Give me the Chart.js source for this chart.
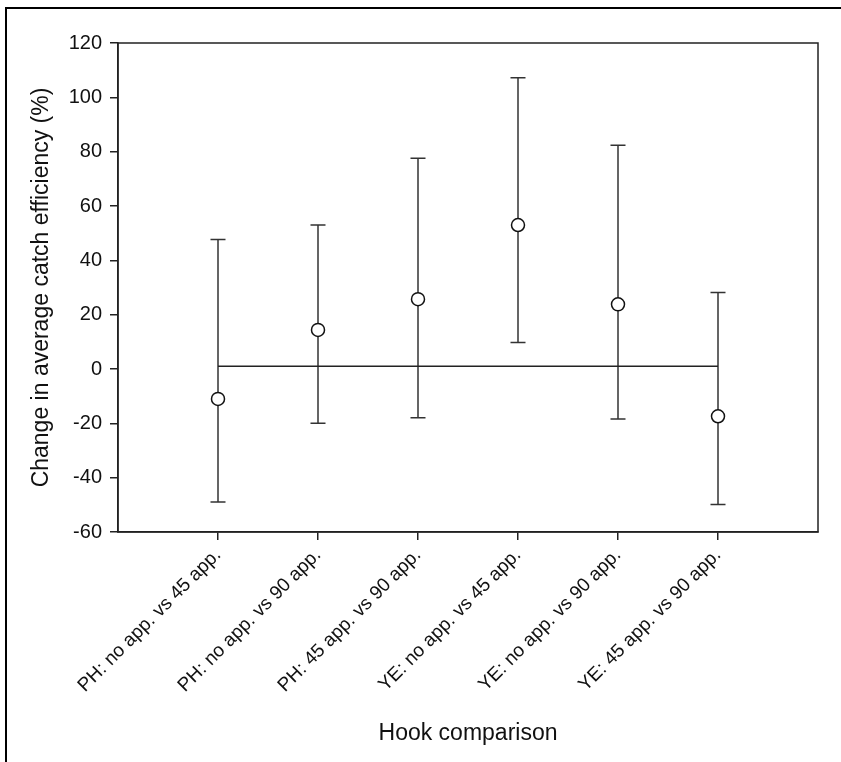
<!DOCTYPE html>
<html><head><meta charset="utf-8">
<script src="https://cdn.jsdelivr.net/npm/chart.js@4.4.0/dist/chart.umd.min.js"></script>
<style>
html,body{margin:0;padding:0;background:#fff;overflow:hidden;}
#wrap{position:absolute;left:0;top:0;width:841px;height:762px;}
#frame{position:absolute;left:5px;top:7px;width:840px;height:760px;border-top:2px solid #000;border-left:2px solid #000;}
canvas{position:absolute;left:0;top:0;}
</style></head><body>
<div id="wrap"><div id="frame"></div><canvas id="c" width="841" height="762"></canvas></div>
<script>
const categories = ["PH: no app. vs 45 app.", "PH: no app. vs 90 app.", "PH: 45 app. vs 90 app.",
                    "YE: no app. vs 45 app.", "YE: no app. vs 90 app.", "YE: 45 app. vs 90 app."];
const meanValues  = [-11.0, 14.4, 25.7, 53.0, 23.8, -17.4];
const upperValues = [47.7, 53.0, 77.6, 107.2, 82.4, 28.2];
const lowerValues = [-49.0, -20.0, -17.9, 9.8, -18.4, -49.9];
const referenceLevel = 1;
const yTicks = [-60, -40, -20, 0, 20, 40, 60, 80, 100, 120];

const FONT = "'Liberation Sans', Arial, sans-serif";
const INK = '#222';

const meanPoints = meanValues.map((v, i) => ({x: i + 1, y: v}));
const refLine = [{x: 1, y: referenceLevel}, {x: categories.length, y: referenceLevel}];

const errorBarPlugin = {
  id: 'errorBars',
  beforeDatasetsDraw(chart) {
    const {ctx, scales: {x, y}} = chart;
    ctx.save();
    ctx.strokeStyle = '#333';
    ctx.lineWidth = 1.5;
    const cap = 7.5;
    categories.forEach((c, i) => {
      const px = x.getPixelForValue(i + 1);
      const pu = y.getPixelForValue(upperValues[i]);
      const pl = y.getPixelForValue(lowerValues[i]);
      ctx.beginPath();
      ctx.moveTo(px, pu); ctx.lineTo(px, pl);
      ctx.moveTo(px - cap, pu); ctx.lineTo(px + cap, pu);
      ctx.moveTo(px - cap, pl); ctx.lineTo(px + cap, pl);
      ctx.stroke();
    });
    ctx.restore();
  },
  afterDraw(chart) {
    const {ctx, chartArea: a} = chart;
    ctx.save();
    ctx.strokeStyle = INK;
    ctx.lineWidth = 1.5;
    ctx.strokeRect(a.left, a.top, a.right - a.left, a.bottom - a.top);
    ctx.restore();
  }
};

new Chart(document.getElementById('c'), {
  type: 'scatter',
  data: {
    datasets: [
      {
        type: 'line', data: refLine, borderColor: '#222', borderWidth: 1.5,
        pointRadius: 0, fill: false, order: 2
      },
      {
        data: meanPoints, pointRadius: 6.5, pointHoverRadius: 6.5,
        pointBackgroundColor: '#fff', pointBorderColor: '#111', pointBorderWidth: 1.5, order: 1
      }
    ]
  },
  options: {
    responsive: false,
    animation: false,
    devicePixelRatio: 1,
    layout: {padding: {top: 43, right: 23, left: 0, bottom: 0}},
    plugins: {legend: {display: false}, tooltip: {enabled: false}},
    scales: {
      x: {
        type: 'linear', min: 0, max: 7,
        afterBuildTicks: (s) => { s.ticks = categories.map((c, i) => ({value: i + 1})); },
        afterFit: (s) => { s.height = 230; },
        ticks: {
          autoSkip: false, minRotation: 45, maxRotation: 45, padding: 4,
          color: '#111', font: {family: FONT, size: 19},
          callback: (v) => categories[v - 1] || ''
        },
        grid: {drawOnChartArea: false, tickLength: 8, color: INK, lineWidth: 1.5},
        border: {color: INK, width: 1.5},
        title: {display: true, text: 'Hook comparison', color: '#111',
                font: {family: FONT, size: 23}, padding: {top: 0, bottom: 15}}
      },
      y: {
        type: 'linear', min: -60, max: 120,
        afterBuildTicks: (s) => { s.ticks = yTicks.map(v => ({value: v})); },
        afterFit: (s) => { s.width = 118; },
        ticks: {color: '#111', font: {family: FONT, size: 20}, padding: 8},
        grid: {drawOnChartArea: false, tickLength: 8, color: INK, lineWidth: 1.5},
        border: {color: INK, width: 1.5},
        title: {display: true, text: 'Change in average catch efficiency (%)', color: '#111',
                font: {family: FONT, size: 23}, padding: {top: 28, bottom: 0}}
      }
    }
  },
  plugins: [errorBarPlugin]
});
</script>
</body></html>
